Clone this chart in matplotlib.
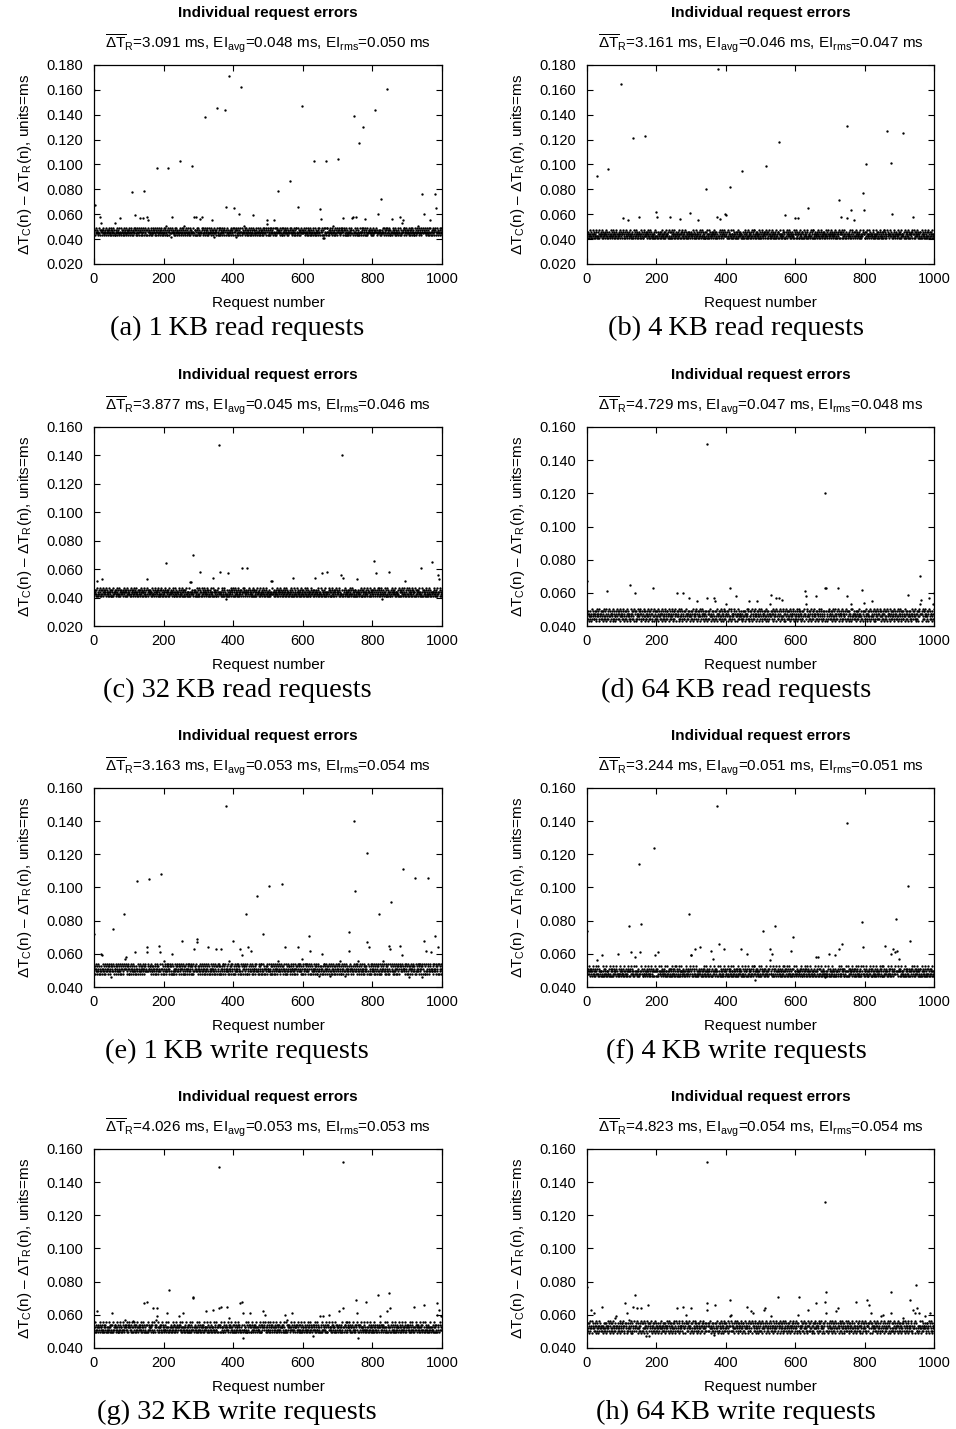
import numpy as np
import matplotlib
matplotlib.use("Agg")
import matplotlib.pyplot as plt
from matplotlib.ticker import FormatStrFormatter

plt.rcParams["font.family"] = ["Liberation Sans", "DejaVu Sans"]
plt.rcParams["mathtext.fontset"] = "custom"
plt.rcParams["mathtext.rm"] = "Liberation Sans"
plt.rcParams["mathtext.it"] = "Liberation Sans:italic"
plt.rcParams["mathtext.bf"] = "Liberation Sans:bold"
plt.rcParams["mathtext.default"] = "regular"

# ---- data ---------------------------------------------------------------
# dense band: one digit per request, value = base + digit * BAND_STEP (ms)
BAND_STEP = 0.0015
BASES = [0.0400, 0.0380, 0.0380, 0.0400, 0.0450, 0.0435, 0.0465, 0.0460]

BAND_A = ("4352463534 2436354245 3524635342 5346253425 4635243562 3452643527 2453624354 6325342635 4253462534 3625435246"
          "5342635243 4526345362 3546235426 4352643524 6345236452 3524634253 4362534265 3452634523 6425346352 4536243526"
          "3462534725 2463524361 5342634524 3652436254 4325364235 2643526347 3526435243 6243562453 4356243652 5243625436"
          "2534624356 4362534642 3542653423 6435246352 4253614352 5436243526 3624536425 4352643152 6345234625 3452634526"
          "4635243652 3526435246 2453624357 4362534625 3452634253 6243526435 5342635424 3652436245 4253642536 3462534826"
          "5243625346 4352634526 3624536245 4536243562 2634524365 5342635243 4625346352 3452643526 6342536425 4253462534"
          "3546235436 2435264352 4635243652 5342634524 3462534625 4352643526 2536425346 6243526453 3452634725 4362534625"
          "4253624356 3645243562 5342635243 2463524365 4352643524 6345236452 3524634256 4362534265 2453624354 5346253425"
          "3625435246 4352463534 5243625436 3462534625 4635243652 2534624356 5342635243 4362534642 3526435246 6243562453"
          "4352634526 3542653423 2643526347 5436243526 3452634253 4625346352 3624536425 4253642536 5342634524 3462534625")

BAND_B = ("3425342634 2534236452 4342536243 5234624354 3624352434 2453642352 4235342634 3524634253 2436524342 5342643524"
          "4253624352 3462534243 2534634252 4352463524 3624534243 5243624352 2435634254 3542436253 4263524342 3524362453"
          "2634524352 4352634243 5243524634 3425362452 2534624352 4634253424 3524636245 2453624352 4362534245 3245362434"
          "5342463524 2436253424 4352634253 3624524352 2543624342 4263524354 3452634524 5234624352 3624352436 2453462534"
          "4325362452 3542634243 2634524352 4253624354 5342436252 3425634243 2536243524 4352634526 3624352434 5243624352"
          "2435634254 4352463524 3524634253 2634524342 4253624352 5342634243 3425362452 2453624354 4362534243 3524362453"
          "4263524342 2534634252 5243624352 3462534243 4352634526 2624352434 3542436253 4253624354 3425342634 5234624354"
          "3624534243 4352463524 2534236452 5342643524 3624352434 4235342634 2453642352 3524634253 4342536243 2436524342"
          "5243524634 3462534243 4352634243 2634524352 4253624352 3524636245 2436253424 4634253424 3245362434 5342463524"
          "2543624342 4325362452 3452634524 2453462534 4263524354 3624524352 5234624352 4352634253 2536243524 3542634243")

BAND_C = ("4534253624 3425364253 2534624345 4352634524 3624534252 5243624354 4352463523 2634524354 3542634245 4253624353"
          "3425362454 2534634253 4624352435 3524634254 4253624352 2634524354 5342436253 3425634245 4352634253 2536243524"
          "4362534245 3245362434 5342463524 2436253424 4352634253 3624524352 2543624342 4263524354 3452634524 5234624352"
          "3624352436 2453462534 4325362452 3542634243 2634524352 4253624354 5342436252 3425634243 2536243524 4352634526"
          "2453624352 4362534245 3524636245 4634253424 2534624352 3425362452 5243524634 4342536243 3524634253 2436524342"
          "4235342634 3624352434 2534236452 5342643524 4352463524 3624534243 2453642352 4253624352 3462534243 5243624352"
          "3542436253 4263524342 2435634254 3524362453 4352634243 2634524342 5342634243 3425362452 4253624354 2453624354"
          "4362534243 3524362453 2634524352 4352634253 3624524352 5243624354 4325362452 2543624342 3452634524 4263524354"
          "2536243524 4352634526 3425634243 5342436252 2634524352 4253624354 3542634243 4325362452 2453462534 3624352436"
          "5234624352 3452634524 4263524354 2543624342 3624524352 4352634253 2436253424 5342463524 3245362434 4362534245")

BAND_D = ("4536425364 5247354635 3645263547 4563725463 5364256347 4635274536 3547264535 5463725364 4256374635 6354725463"
          "5463742536 3645274563 4536254736 5364725463 2645374536 4756325463 5364724635 3546274536 4635725364 5274635463"
          "3647254635 4563725463 5346274536 6354725463 4536472536 3654725364 5463274635 4736254563 3645274536 5364725463"
          "4635274536 5463725364 3546274635 4756325463 5364724536 6354725463 4536254736 3645274563 5463742536 4256374635"
          "5364256347 3547264535 4563725463 5247354635 4536425364 3645263547 5463725364 4635274536 6354725463 3546274536"
          "4736254563 5364724635 2645374536 4635725364 5463274635 3654725364 4536472536 5274635463 3647254635 4563725463"
          "5346274536 4756325463 3645274536 5364725463 4635274536 6354725463 4536254736 5463742536 3546274635 4256374635"
          "5364256347 4635274536 3547264535 5463725364 4563725463 3645263547 5247354635 4536425364 6354725463 4736254563"
          "3654725364 5463274635 4536472536 2645374536 5364724635 4635725364 3647254635 5274635463 4563725463 5346274536"
          "4756325463 3645274536 5364725463 4635274536 5463742536 3546274635 4536254736 6354725463 4256374635 5364256347")

BAND_E = ("3524634253 4362534265 3452634523 6425346352 4536243526 5342635243 4526345362 3546235426 4352643524 6345236452"
          "2453624354 6325342635 4253462534 3625435246 4352463534 2436354245 3524635342 5346253425 4635243562 3452643527"
          "4253624356 3645243562 5342635243 2463524365 4352643524 6345236452 3524634256 4362534265 2453624354 5346253425"
          "3546235436 2435264352 4635243652 5342634524 3462534625 4352643526 2536425346 6243526453 3452634725 4362534625"
          "5243625346 4352634526 3624536245 4536243562 2634524365 5342635243 4625346352 3452643526 6342536425 4253462534"
          "4635243652 3526435246 2453624357 4362534625 3452634253 6243526435 5342635424 3652436245 4253642536 3462534826"
          "2534624356 4362534642 3542653423 6435246352 4253614352 5436243526 3624536425 4352643152 6345234625 3452634526"
          "3462534725 2463524361 5342634524 3652436254 4325364235 2643526347 3526435243 6243562453 4356243652 5243625436"
          "4352634526 3542653423 2643526347 5436243526 3452634253 4625346352 3624536425 4253642536 5342634524 3462534625"
          "3625435246 4352463534 5243625436 3462534625 4635243652 2534624356 5342635243 4362534642 3526435246 6243562453")

BAND_F = ("2435634254 4352463524 3524634253 2634524342 4253624352 5342634243 3425362452 2453624354 4362534243 3524362453"
          "3425342634 2534236452 4342536243 5234624354 3624352434 2453642352 4235342634 3524634253 2436524342 5342643524"
          "5243524634 3462534243 4352634243 2634524352 4253624352 3524636245 2436253424 4634253424 3245362434 5342463524"
          "4253624352 3462534243 2534634252 4352463524 3624534243 5243624352 2435634254 3542436253 4263524342 3524362453"
          "4325362452 3542634243 2634524352 4253624354 5342436252 3425634243 2536243524 4352634526 3624352434 5243624352"
          "2634524352 4352634243 5243524634 3425362452 2534624352 4634253424 3524636245 2453624352 4362534245 3245362434"
          "3624534243 4352463524 2534236452 5342643524 3624352434 4235342634 2453642352 3524634253 4342536243 2436524342"
          "5342463524 2436253424 4352634253 3624524352 2543624342 4263524354 3452634524 5234624352 3624352436 2453462534"
          "4263524342 2534634252 5243624352 3462534243 4352634526 2624352434 3542436253 4253624354 3425342634 5234624354"
          "2543624342 4325362452 3452634524 2453462534 4263524354 3624524352 5234624352 4352634253 2536243524 3542634243")

BAND_G = ("3624352436 2453462534 4325362452 3542634243 2634524352 4253624354 5342436252 3425634243 2536243524 4352634526"
          "4534253624 3425364253 2534624345 4352634524 3624534252 5243624354 4352463523 2634524354 3542634245 4253624353"
          "4235342634 3624352434 2534236452 5342643524 4352463524 3624534243 2453642352 4253624352 3462534243 5243624352"
          "4362534245 3245362434 5342463524 2436253424 4352634253 3624524352 2543624342 4263524354 3452634524 5234624352"
          "2536243524 4352634526 3425634243 5342436252 2634524352 4253624354 3542634243 4325362452 2453462534 3624352436"
          "3425362454 2534634253 4624352435 3524634254 4253624352 2634524354 5342436253 3425634245 4352634253 2536243524"
          "4362534243 3524362453 2634524352 4352634253 3624524352 5243624354 4325362452 2543624342 3452634524 4263524354"
          "2453624352 4362534245 3524636245 4634253424 2534624352 3425362452 5243524634 4342536243 3524634253 2436524342"
          "5234624352 3452634524 4263524354 2543624342 3624524352 4352634253 2436253424 5342463524 3245362434 4362534245"
          "3542436253 4263524342 2435634254 3524362453 4352634243 2634524342 5342634243 3425362452 4253624354 2453624354")

BAND_H = ("5364256347 3547264535 4563725463 5247354635 4536425364 3645263547 5463725364 4635274536 6354725463 3546274536"
          "3654725364 5463274635 4536472536 2645374536 5364724635 4635725364 3647254635 5274635463 4563725463 5346274536"
          "4536425364 5247354635 3645263547 4563725463 5364256347 4635274536 3547264535 5463725364 4256374635 6354725463"
          "5346274536 4756325463 3645274536 5364725463 4635274536 6354725463 4536254736 5463742536 3546274635 4256374635"
          "4635274536 5463725364 3546274635 4756325463 5364724536 6354725463 4536254736 3645274563 5463742536 4256374635"
          "3647254635 4563725463 5346274536 6354725463 4536472536 3654725364 5463274635 4736254563 3645274536 5364725463"
          "4756325463 3645274536 5364725463 4635274536 5463742536 3546274635 4536254736 6354725463 4256374635 5364256347"
          "5463742536 3645274563 4536254736 5364725463 2645374536 4756325463 5364724635 3546274536 4635725364 5274635463"
          "4736254563 5364724635 2645374536 4635725364 5463274635 3654725364 4536472536 5274635463 3647254635 4563725463"
          "5364256347 4635274536 3547264535 5463725364 4563725463 3645263547 5247354635 4536425364 6354725463 4736254563")

BANDS = [BAND_A, BAND_B, BAND_C, BAND_D, BAND_E, BAND_F, BAND_G, BAND_H]

# points off the band: (request number, error in ms)
OUT_A = [(1, 0.160), (2, 0.067), (17, 0.058), (21, 0.053), (60, 0.053), (74, 0.057), (110, 0.078), (118, 0.059),
         (132, 0.057), (142, 0.057), (143, 0.079), (151, 0.058), (156, 0.055), (180, 0.097), (214, 0.097), (224, 0.058),
         (248, 0.103), (283, 0.099), (288, 0.058), (294, 0.058), (305, 0.056), (311, 0.058), (319, 0.138), (340, 0.055),
         (353, 0.145), (377, 0.144), (378, 0.066), (388, 0.171), (403, 0.065), (407, 0.042), (418, 0.060), (423, 0.162),
         (458, 0.059), (496, 0.055), (518, 0.055), (528, 0.079), (563, 0.087), (585, 0.066), (597, 0.147), (631, 0.103),
         (650, 0.064), (652, 0.056), (657, 0.041), (662, 0.041), (667, 0.103), (702, 0.104), (717, 0.057), (741, 0.057),
         (745, 0.058), (748, 0.139), (753, 0.058), (762, 0.117), (772, 0.130), (780, 0.056), (808, 0.144), (816, 0.060),
         (825, 0.072), (841, 0.161), (855, 0.056), (879, 0.058), (884, 0.053), (888, 0.055), (944, 0.076), (948, 0.060),
         (965, 0.055), (979, 0.076), (982, 0.065)]
OUT_B = [(29, 0.091), (62, 0.096), (99, 0.165), (104, 0.057), (118, 0.055), (133, 0.121), (150, 0.058), (168, 0.123),
         (198, 0.062), (202, 0.058), (238, 0.058), (267, 0.056), (296, 0.061), (320, 0.055), (343, 0.080), (375, 0.058),
         (377, 0.177), (383, 0.056), (397, 0.060), (400, 0.059), (412, 0.082), (447, 0.095), (517, 0.099), (552, 0.118),
         (572, 0.059), (600, 0.057), (608, 0.057), (637, 0.065), (726, 0.071), (732, 0.058), (748, 0.131), (749, 0.057),
         (762, 0.063), (770, 0.055), (796, 0.077), (798, 0.063), (803, 0.100), (865, 0.127), (875, 0.101), (878, 0.060),
         (910, 0.125), (939, 0.058)]
OUT_C = [(10, 0.052), (24, 0.053), (151, 0.053), (206, 0.064), (275, 0.051), (279, 0.051), (285, 0.070), (305, 0.058),
         (343, 0.054), (359, 0.147), (361, 0.058), (379, 0.039), (384, 0.057), (425, 0.061), (439, 0.061), (508, 0.052),
         (513, 0.052), (573, 0.054), (636, 0.054), (654, 0.057), (671, 0.058), (709, 0.056), (714, 0.140), (716, 0.054),
         (755, 0.053), (805, 0.066), (810, 0.057), (829, 0.039), (849, 0.058), (894, 0.052), (939, 0.061), (971, 0.065),
         (990, 0.056), (992, 0.053)]
OUT_D = [(1, 0.067), (58, 0.061), (124, 0.065), (138, 0.060), (191, 0.063), (258, 0.060), (276, 0.060), (295, 0.057),
         (318, 0.055), (345, 0.150), (347, 0.057), (366, 0.057), (368, 0.055), (402, 0.053), (412, 0.063), (430, 0.058),
         (467, 0.055), (490, 0.055), (526, 0.053), (529, 0.059), (544, 0.057), (553, 0.057), (562, 0.056), (629, 0.061),
         (630, 0.058), (631, 0.053), (661, 0.058), (686, 0.063), (687, 0.120), (690, 0.063), (723, 0.063), (748, 0.058),
         (761, 0.053), (792, 0.062), (798, 0.054), (822, 0.055), (925, 0.059), (959, 0.070), (961, 0.053), (963, 0.056),
         (985, 0.057), (997, 0.053), (999, 0.060)]
OUT_E = [(1, 0.072), (19, 0.060), (23, 0.059), (49, 0.046), (54, 0.075), (87, 0.084), (89, 0.057), (92, 0.058),
         (118, 0.061), (123, 0.104), (151, 0.064), (152, 0.061), (158, 0.105), (188, 0.065), (190, 0.061), (193, 0.108),
         (223, 0.060), (252, 0.068), (287, 0.063), (295, 0.069), (296, 0.067), (329, 0.064), (351, 0.063), (364, 0.063),
         (379, 0.149), (400, 0.068), (420, 0.063), (424, 0.059), (437, 0.084), (442, 0.064), (450, 0.062), (469, 0.095),
         (485, 0.072), (504, 0.101), (539, 0.102), (549, 0.064), (587, 0.064), (617, 0.071), (621, 0.062), (654, 0.060),
         (732, 0.073), (734, 0.062), (748, 0.140), (751, 0.098), (784, 0.121), (786, 0.067), (791, 0.064), (818, 0.084),
         (849, 0.065), (851, 0.063), (853, 0.091), (879, 0.065), (884, 0.059), (889, 0.111), (906, 0.046), (923, 0.106),
         (943, 0.046), (949, 0.068), (954, 0.062), (959, 0.106), (968, 0.061), (980, 0.071), (989, 0.064)]
OUT_F = [(1, 0.074), (28, 0.056), (43, 0.059), (89, 0.060), (122, 0.077), (128, 0.061), (139, 0.058), (150, 0.114),
         (153, 0.061), (157, 0.078), (192, 0.124), (197, 0.059), (205, 0.061), (295, 0.084), (299, 0.059), (301, 0.059),
         (312, 0.063), (325, 0.064), (358, 0.062), (364, 0.057), (376, 0.149), (379, 0.066), (395, 0.063), (445, 0.063),
         (460, 0.060), (483, 0.044), (506, 0.074), (526, 0.056), (527, 0.063), (532, 0.060), (541, 0.077), (589, 0.062),
         (593, 0.070), (659, 0.058), (666, 0.058), (685, 0.046), (697, 0.060), (714, 0.059), (726, 0.063), (736, 0.066),
         (748, 0.139), (793, 0.079), (795, 0.064), (858, 0.065), (877, 0.060), (881, 0.063), (887, 0.061), (891, 0.081),
         (892, 0.062), (898, 0.057), (925, 0.101), (932, 0.068)]
OUT_G = [(10, 0.062), (51, 0.061), (89, 0.057), (111, 0.056), (144, 0.067), (153, 0.068), (170, 0.064), (178, 0.057),
         (180, 0.059), (182, 0.064), (209, 0.061), (216, 0.075), (244, 0.059), (255, 0.061), (284, 0.071), (285, 0.070),
         (321, 0.062), (343, 0.063), (358, 0.064), (360, 0.149), (364, 0.065), (383, 0.065), (389, 0.058), (420, 0.067),
         (425, 0.068), (427, 0.061), (429, 0.046), (448, 0.061), (487, 0.062), (491, 0.060), (549, 0.060), (554, 0.057),
         (568, 0.061), (630, 0.047), (649, 0.059), (657, 0.059), (676, 0.060), (705, 0.062), (715, 0.152), (716, 0.064),
         (753, 0.069), (757, 0.061), (758, 0.046), (782, 0.068), (815, 0.072), (822, 0.059), (841, 0.062), (849, 0.073),
         (852, 0.064), (921, 0.065), (949, 0.066), (985, 0.060), (987, 0.067), (992, 0.063), (996, 0.059)]
OUT_H = [(1, 0.077), (11, 0.063), (20, 0.061), (44, 0.065), (80, 0.058), (85, 0.059), (110, 0.067), (116, 0.061),
         (120, 0.057), (132, 0.065), (139, 0.072), (143, 0.064), (157, 0.064), (171, 0.047), (176, 0.066), (178, 0.047),
         (258, 0.064), (278, 0.065), (285, 0.060), (301, 0.064), (345, 0.152), (346, 0.067), (347, 0.063), (366, 0.048),
         (368, 0.066), (412, 0.069), (413, 0.059), (416, 0.060), (460, 0.065), (474, 0.062), (477, 0.061), (510, 0.063),
         (514, 0.064), (531, 0.059), (549, 0.071), (608, 0.060), (612, 0.071), (637, 0.063), (659, 0.067), (685, 0.068),
         (687, 0.128), (688, 0.074), (690, 0.061), (718, 0.062), (723, 0.064), (774, 0.068), (807, 0.069), (812, 0.066),
         (819, 0.061), (848, 0.059), (853, 0.060), (875, 0.074), (877, 0.061), (911, 0.058), (931, 0.069), (939, 0.063),
         (944, 0.061), (947, 0.078), (952, 0.064), (956, 0.061), (973, 0.059), (988, 0.061)]
OUTLIERS = [OUT_A, OUT_B, OUT_C, OUT_D, OUT_E, OUT_F, OUT_G, OUT_H]

# mean dT_R, EI_avg, EI_rms
STATS = [(3.091, 0.048, 0.050), (3.161, 0.046, 0.047), (3.877, 0.045, 0.046), (4.729, 0.047, 0.048),
         (3.163, 0.053, 0.054), (3.244, 0.051, 0.051), (4.026, 0.053, 0.053), (4.823, 0.054, 0.054)]
YLIMS = [(0.020, 0.180), (0.020, 0.180), (0.020, 0.160), (0.040, 0.160),
         (0.040, 0.160), (0.040, 0.160), (0.040, 0.160), (0.040, 0.160)]
CAPTIONS = ["(a) 1\u2009KB read requests", "(b) 4\u2009KB read requests",
            "(c) 32\u2009KB read requests", "(d) 64\u2009KB read requests",
            "(e) 1\u2009KB write requests", "(f) 4\u2009KB write requests",
            "(g) 32\u2009KB write requests", "(h) 64\u2009KB write requests"]

# ---- figure ----------------------------------------------------------------
fig = plt.figure(figsize=(9.56, 14.29), dpi=100)
lefts = [0.0983, 0.6140]
widths = [0.3640, 0.3630]
bottoms = [0.8153, 0.5619, 0.3093, 0.0567]
height = 0.1393
cap_x = [237 / 956, 736 / 956]

for i in range(8):
    r, c = divmod(i, 2)
    ax = fig.add_axes([lefts[c], bottoms[r], widths[c], height])

    digits = np.array(list(BANDS[i].replace(" ", "")), dtype=int)
    y = BASES[i] + BAND_STEP * digits
    n = np.arange(1, len(y) + 1)
    for k, v in OUTLIERS[i]:
        y[k - 1] = v
    ax.plot(n, y, ls="none", marker="o", ms=1.7, mew=0, color="black")

    ax.set_xlim(0, 1000)
    ax.set_ylim(*YLIMS[i])
    ax.set_xticks(range(0, 1001, 200))
    ax.set_yticks(np.arange(YLIMS[i][0], YLIMS[i][1] + 1e-9, 0.020))
    ax.yaxis.set_major_formatter(FormatStrFormatter("%.3f"))
    ax.tick_params(direction="in", top=True, right=True, length=4, width=0.8, labelsize=10.5)
    ax.tick_params(axis="x", pad=6)
    ax.tick_params(axis="y", pad=8)
    for s in ax.spines.values():
        s.set_linewidth(0.9)

    ax.annotate("Individual request errors", xy=(0.5, 1), xycoords="axes fraction",
                xytext=(0, 34.5), textcoords="offset points", ha="center", va="baseline",
                fontsize=11, fontweight="bold")
    tr, ea, er = STATS[i]
    sub = (r"$\overline{ΔT}_R$=%.3f ms, EI$_{avg}$=%.3f ms, EI$_{rms}$=%.3f ms" % (tr, ea, er))
    ax.annotate(sub, xy=(0.5, 1), xycoords="axes fraction", xytext=(0, 12),
                textcoords="offset points", ha="center", va="baseline", fontsize=11)
    ax.annotate("Request number", xy=(0.5, 0), xycoords="axes fraction", xytext=(0, -30.7),
                textcoords="offset points", ha="center", va="baseline", fontsize=11)
    ax.annotate("ΔT$_C$(n) – ΔT$_R$(n), units=ms", xy=(0, 0.5), xycoords="axes fraction",
                xytext=(-50, 0), textcoords="offset points", ha="center", va="center",
                rotation=90, fontsize=11)
    ax.annotate(CAPTIONS[i], xy=(cap_x[c], 0), xycoords=("figure fraction", "axes fraction"),
                xytext=(0, -51), textcoords="offset points", ha="center", va="baseline",
                fontsize=20.5, family=["Liberation Serif", "DejaVu Serif"])

fig.savefig("out.png", dpi=100)
